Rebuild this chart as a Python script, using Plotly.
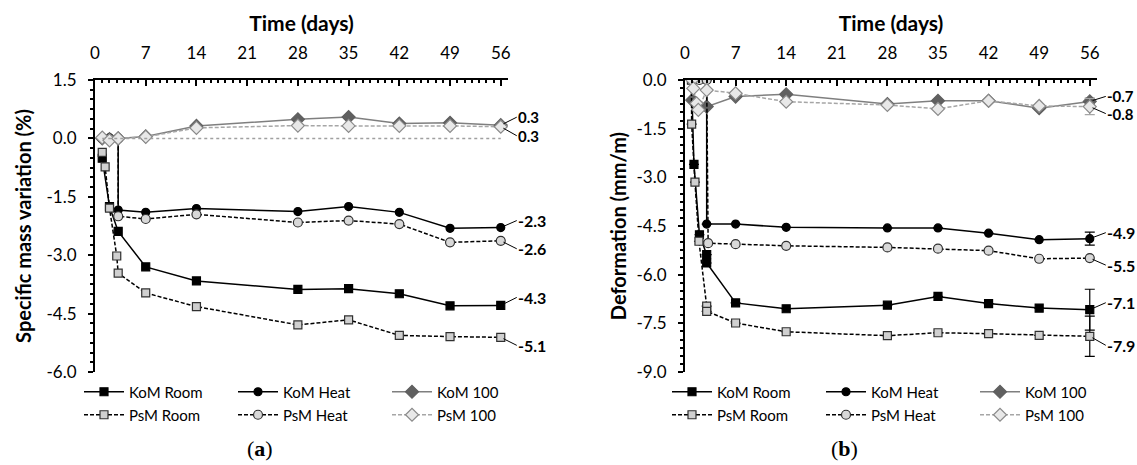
import plotly.graph_objects as go

# ---------------- data: panel (a) specific mass variation (%) ----------------
a_kom_room_days = [1, 2, 3.2, 7, 14, 28, 35, 42, 49, 56]
a_kom_room = [-0.51, -1.75, -2.39, -3.30, -3.66, -3.88, -3.86, -3.99, -4.30, -4.29]
a_psm_room_days = [1, 1.4, 2, 3, 3.2, 7, 14, 28, 35, 42, 49, 56]
a_psm_room = [-0.36, -0.73, -1.79, -3.02, -3.46, -3.97, -4.32, -4.79, -4.66, -5.06, -5.09, -5.11]
a_kom_heat_days = [1, 2, 3.2, 3.2, 7, 14, 28, 35, 42, 49, 56]
a_kom_heat = [0.0, 0.0, 0.0, -1.84, -1.90, -1.80, -1.88, -1.75, -1.90, -2.31, -2.29]
a_psm_heat_days = [1, 2, 3.2, 3.2, 7, 14, 28, 35, 42, 49, 56]
a_psm_heat = [0.0, 0.0, 0.0, -2.00, -2.07, -1.95, -2.16, -2.11, -2.20, -2.67, -2.63]
a_kom_100_days = [1, 2, 3.2, 7, 14, 28, 35, 42, 49, 56]
a_kom_100 = [0.0, -0.02, 0.0, 0.05, 0.32, 0.49, 0.55, 0.38, 0.40, 0.34]
a_psm_100_days = [1, 2, 3.2, 7, 14, 28, 35, 42, 49, 56]
a_psm_100 = [0.02, -0.05, 0.0, 0.04, 0.27, 0.33, 0.32, 0.32, 0.32, 0.30]
a_ref_days = [1, 56]
a_ref_level = [0, 0]

# ---------------- data: panel (b) deformation (mm/m) ----------------
b_kom_room_days = [0.9, 1.24, 2, 3, 3, 7, 14, 28, 35, 42, 49, 56]
b_kom_room = [0.0, -2.60, -4.77, -5.38, -5.64, -6.87, -7.05, -6.94, -6.67, -6.89, -7.03, -7.08]
b_kom_room_err = [0, 0, 0, 0, 0, 0, 0, 0, 0, 0, 0, 0.63]
b_psm_room_days = [0.9, 0.92, 1.38, 1.93, 3, 3, 7, 14, 28, 35, 42, 49, 56]
b_psm_room = [0.0, -1.36, -3.15, -4.97, -6.97, -7.13, -7.49, -7.76, -7.88, -7.79, -7.82, -7.87, -7.90]
b_psm_room_err = [0, 0, 0, 0, 0, 0, 0, 0, 0, 0, 0, 0, 0.62]
b_kom_heat_days = [3, 3, 7, 14, 28, 35, 42, 49, 56]
b_kom_heat = [0.0, -4.44, -4.44, -4.54, -4.56, -4.56, -4.72, -4.92, -4.89]
b_kom_heat_err = [0, 0, 0, 0, 0, 0, 0, 0, 0.20]
b_psm_heat_days = [2, 3, 3.2, 7, 14, 28, 35, 42, 49, 56]
b_psm_heat = [0.0, 0.0, -5.03, -5.06, -5.11, -5.16, -5.20, -5.26, -5.51, -5.49]
b_kom_100_days = [1, 3, 7, 14, 28, 35, 42, 49, 56]
b_kom_100 = [-0.62, -0.82, -0.51, -0.44, -0.74, -0.64, -0.64, -0.87, -0.66]
b_kom_100_err = [0, 0, 0, 0, 0, 0, 0, 0, 0.10]
b_psm_100_days = [1, 1.15, 1.6, 1.84, 3, 7, 14, 28, 35, 42, 49, 56]
b_psm_100 = [0.0, -0.26, -0.72, -0.92, -0.31, -0.41, -0.67, -0.77, -0.89, -0.64, -0.80, -0.82]
b_psm_100_err = [0, 0, 0, 0, 0, 0, 0, 0, 0, 0, 0, 0.25]

x_ticks = [0, 7, 14, 21, 28, 35, 42, 49, 56]
a_y_ticks = [1.5, 0.0, -1.5, -3.0, -4.5, -6.0]
b_y_ticks = [0.0, -1.5, -3.0, -4.5, -6.0, -7.5, -9.0]

FONT = "Lato"
BLACK = "#000000"
GRAY = "#7f7f7f"
LGRAY = "#a6a6a6"

fig = go.Figure()

styles = {
    "KoM Room": dict(color=BLACK, dash="solid", symbol="square", size=8, fill=BLACK, mline=BLACK),
    "KoM Heat": dict(color=BLACK, dash="solid", symbol="circle", size=8, fill=BLACK, mline=BLACK),
    "KoM 100": dict(color=GRAY, dash="solid", symbol="diamond", size=10, fill="#606060", mline="#606060"),
    "PsM Room": dict(color=BLACK, dash="4px,2px", symbol="square", size=8, fill="#d0d0d0", mline="#303030"),
    "PsM Heat": dict(color=BLACK, dash="4px,2px", symbol="circle", size=9, fill="#d8d8d8", mline="#303030"),
    "PsM 100": dict(color=LGRAY, dash="4px,2px", symbol="diamond", size=10, fill="#e8e8e8", mline="#8a8a8a"),
}


def add(name, xs, ys, xa, ya, legend, err=None):
    s = styles[name]
    kw = {}
    if err is not None:
        kw["error_y"] = dict(type="data", array=err, visible=True, color=s["color"],
                             thickness=1.2, width=5)
    fig.add_trace(go.Scatter(
        x=xs, y=ys, name=name, mode="lines+markers", xaxis=xa, yaxis=ya, legend=legend,
        line=dict(color=s["color"], width=1.5, dash=s["dash"]),
        marker=dict(symbol=s["symbol"], size=s["size"], color=s["fill"],
                    line=dict(color=s["mline"], width=1.2)),
        **kw))


# panel (a)
add("KoM Room", a_kom_room_days, a_kom_room, "x", "y", "legend")
add("KoM Heat", a_kom_heat_days, a_kom_heat, "x", "y", "legend")
add("KoM 100", a_kom_100_days, a_kom_100, "x", "y", "legend")
add("PsM Room", a_psm_room_days, a_psm_room, "x", "y", "legend2")
add("PsM Heat", a_psm_heat_days, a_psm_heat, "x", "y", "legend2")
add("PsM 100", a_psm_100_days, a_psm_100, "x", "y", "legend2")
fig.add_trace(go.Scatter(x=a_ref_days, y=a_ref_level, mode="lines", showlegend=False,
                         xaxis="x", yaxis="y", line=dict(color="#a0a0a0", width=1.5, dash="dot")))

# panel (b)
add("KoM Room", b_kom_room_days, b_kom_room, "x2", "y2", "legend3", b_kom_room_err)
add("KoM Heat", b_kom_heat_days, b_kom_heat, "x2", "y2", "legend3", b_kom_heat_err)
add("KoM 100", b_kom_100_days, b_kom_100, "x2", "y2", "legend3", b_kom_100_err)
add("PsM Room", b_psm_room_days, b_psm_room, "x2", "y2", "legend4", b_psm_room_err)
add("PsM Heat", b_psm_heat_days, b_psm_heat, "x2", "y2", "legend4")
add("PsM 100", b_psm_100_days, b_psm_100, "x2", "y2", "legend4", b_psm_100_err)


# end labels with leader lines
def end_label(xa, ya, xs, ys, dy, size=16):
    v = ys[-1]
    fig.add_annotation(x=xs[-1], y=v, xref=xa, yref=ya, text=f"<b>{v:.1f}</b>",
                       showarrow=True, arrowhead=0, arrowwidth=1, arrowcolor="#000",
                       ax=16, ay=dy, xanchor="left", yanchor="middle",
                       font=dict(family=FONT, size=size, color="#000"), standoff=3,
                       borderpad=0)


end_label("x", "y", a_kom_100_days, a_kom_100, -8, 15)
end_label("x", "y", a_psm_100_days, a_psm_100, 9, 15)
end_label("x", "y", a_kom_heat_days, a_kom_heat, -7)
end_label("x", "y", a_psm_heat_days, a_psm_heat, 8)
end_label("x", "y", a_kom_room_days, a_kom_room, -8)
end_label("x", "y", a_psm_room_days, a_psm_room, 8)
end_label("x2", "y2", b_kom_100_days, b_kom_100, -5, 15)
end_label("x2", "y2", b_psm_100_days, b_psm_100, 7, 15)
end_label("x2", "y2", b_kom_heat_days, b_kom_heat, -6)
end_label("x2", "y2", b_psm_heat_days, b_psm_heat, 7)
end_label("x2", "y2", b_kom_room_days, b_kom_room, -7)
end_label("x2", "y2", b_psm_room_days, b_psm_room, 9)

W, H = 1137, 465
xd1 = [95 / W, 508 / W]
xd2 = [685 / W, 1097 / W]
yd = [(H - 372) / H, (H - 80) / H]

xcommon = dict(range=[0, 57], side="top", tickvals=x_ticks, ticks="inside", ticklen=6,
               tickwidth=2, tickcolor="#000", showline=True, linecolor="#000", linewidth=2,
               showgrid=False, zeroline=False, mirror=False, automargin=False,
               ticklabelstandoff=12,
               minor=dict(dtick=1, ticks="inside", ticklen=3, tickwidth=1.5, tickcolor="#000", tick0=0),
               tickfont=dict(family=FONT, size=17, color="#000"),
               title=dict(text="<b>Time (days)</b>", font=dict(family=FONT, size=21, color="#000"), standoff=5))
ycommon = dict(ticks="outside", ticklen=5, tickwidth=2, tickcolor="#000", showline=True,
               linecolor="#000", linewidth=2, showgrid=False, zeroline=False, automargin=False,
               ticklabelstandoff=8,
               minor=dict(dtick=0.25, ticks="outside", ticklen=3, tickwidth=1.5, tickcolor="#000"),
               tickfont=dict(family=FONT, size=17, color="#000"))

fig.update_layout(
    template="none",
    width=W, height=H, margin=dict(l=0, r=0, t=0, b=0, pad=0),
    paper_bgcolor="white", plot_bgcolor="white",
    font=dict(family=FONT, color="#000"),
    xaxis=dict(domain=xd1, anchor="y", **xcommon),
    yaxis=dict(domain=yd, anchor="x", range=[-6.0, 1.5], tickvals=a_y_ticks,
               ticktext=[f"{v:.1f}" for v in a_y_ticks],
               title=dict(text="<b>Specific mass variation (%)</b>",
                          font=dict(family=FONT, size=20, color="#000"), standoff=10),
               **ycommon),
    xaxis2=dict(domain=xd2, anchor="y2", **xcommon),
    yaxis2=dict(domain=yd, anchor="x2", range=[-9.0, 0.0], tickvals=b_y_ticks,
                ticktext=[f"{v:.1f}" for v in b_y_ticks],
                title=dict(text="<b>Deformation (mm/m)</b>",
                           font=dict(family=FONT, size=20, color="#000"), standoff=5),
                **ycommon),
    showlegend=True,
)

leg = dict(orientation="h", xanchor="left", yanchor="middle", itemwidth=40,
           entrywidth=99, entrywidthmode="pixels", bgcolor="rgba(0,0,0,0)", borderwidth=0,
           font=dict(family=FONT, size=15, color="#000"), traceorder="normal", tracegroupgap=0)
fig.update_layout(
    legend=dict(x=79 / W, y=(H - 392) / H, **leg),
    legend2=dict(x=79 / W, y=(H - 415) / H, **leg),
    legend3=dict(x=667 / W, y=(H - 392) / H, **leg),
    legend4=dict(x=667 / W, y=(H - 415) / H, **leg),
)

fig.add_annotation(x=260 / W, y=(H - 448) / H, xref="paper", yref="paper", showarrow=False,
                   yanchor="middle", xanchor="center",
                   text="(<b>a</b>)", font=dict(family="Liberation Serif", size=22, color="#000"))
fig.add_annotation(x=844 / W, y=(H - 448) / H, xref="paper", yref="paper", showarrow=False,
                   yanchor="middle", xanchor="center",
                   text="(<b>b</b>)", font=dict(family="Liberation Serif", size=22, color="#000"))

fig.write_html("out.html")
